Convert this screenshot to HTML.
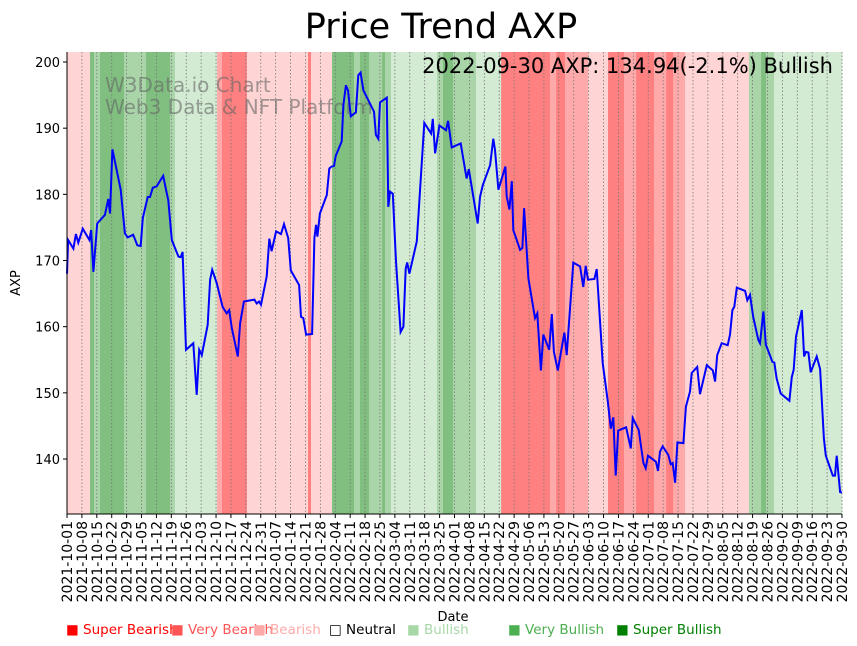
<!DOCTYPE html>
<html><head><meta charset="utf-8"><style>
html,body{margin:0;padding:0;background:#fff;}
svg{display:block;font-family:"DejaVu Sans","Liberation Sans",sans-serif;}
</style></head><body>
<svg id="chart" width="857" height="646" viewBox="0 0 857 646" xmlns="http://www.w3.org/2000/svg">
<text x="441" y="38" font-size="35" text-anchor="middle">Price Trend AXP</text>
<g id="bands"></g>
<g id="grid"></g>
<g fill="#666" fill-opacity="0.6" font-size="20">
<text x="105" y="92">W3Data.io Chart</text>
<text x="105" y="114">Web3 Data &amp; NFT Platform</text>
</g>
<path id="line" fill="none" stroke="#0000ff" stroke-width="2"/>
<text x="833" y="73" font-size="21" text-anchor="end">2022-09-30 AXP: 134.94(-2.1%) Bullish</text>
<g id="axes"></g>
<text x="453" y="621" font-size="13" text-anchor="middle">Date</text>
<text transform="translate(20,283) rotate(-90)" font-size="13" text-anchor="middle">AXP</text>
<g id="legend" font-size="13.5"></g>
</svg>
<script>
const bandStarts=[0,10.8,12.7,15.5,26.8,37.1,48.4,50.7,70.5,72.8,84.5,113.2,114.6,124.5,134.8,137.6,141.9,148,149.4,152.2,173.8,176.6,181.3,192.1,203.9,226.9,229.7,233.9,244.7,254.1,261.6,267.3,275.7,281.4,284.7,290.3,320.3,326,328.3,332.1];
const bandEnds=[10.8,12.7,15.5,26.8,37.1,48.4,50.7,70.5,72.8,84.5,113.2,114.6,124.5,134.8,137.6,141.9,148,149.4,152.2,173.8,176.6,181.3,192.1,203.9,226.9,229.7,233.9,244.7,254.1,261.6,267.3,275.7,281.4,284.7,290.3,320.3,326,328.3,332.1,364];
const bandLevels=[2,6,5,6,5,6,5,4,1,0,2,0,2,6,5,6,5,6,5,4,5,6,5,4,0,1,0,1,2,0,1,0,1,0,1,2,5,6,5,4];
const days=[0,0.5,3,4.2,5.3,7.4,10.5,11.3,12.4,14.2,17.8,19.4,20.2,21.3,25.2,27.2,28.5,31.1,33,34.6,35.6,37.9,39,40.3,42.1,45.2,46.5,47.6,49.2,52.3,53.4,54.3,55.9,59.3,60.9,62.1,63.3,66.1,67.2,68.2,70.3,73.1,75,76.2,77.4,80.2,81.3,83.1,88,89.1,90.2,91.1,93.8,95,96.1,98.2,100.5,101.9,103.9,105.1,109,109.9,111,112.3,115.1,116.2,117,117.6,118.8,122,123.2,124.3,125.4,126.2,129,129.8,131,132,133.3,135.7,136.8,137.9,139.2,144.2,145.1,146.2,147,150.2,150.9,151.7,153,154.5,156.7,158,159.1,159.8,160.8,164.3,167.8,171,171.8,172.9,174.9,178,179,180.7,184.9,187.7,188.7,192.9,194,195.3,198.7,200.2,201,202.6,205.9,206.5,207.8,208.9,209.6,212.8,213.9,214.7,216.7,219.8,220.9,222.6,223.7,226.5,227.7,228.7,230.5,233.6,234.7,237.8,241,242.5,243.6,244.7,247.7,248.8,251.6,254,255.4,256.6,257.7,258.9,262.6,264.8,265.7,268.5,270.7,271.8,272.9,276.6,277.6,278.5,279.8,282.4,283.6,284.5,285.6,286.7,289.5,290.7,292.6,293.4,296,297.3,298.9,300.5,303.3,304.4,305.4,307.5,310.3,311.4,312.5,313.4,314.6,318.5,319.5,320.8,322.3,324.7,325.5,327.1,328.2,331.3,332.2,333.3,335.2,339.3,340.4,341.3,342.4,345.1,346.2,347.1,348.2,349.3,352.1,353.7,355.5,356.4,359.7,360.7,361.5,363.1,364];
const prices=[168,173.1,171.8,174,172.7,174.8,173.1,174.6,168.3,175.6,176.9,179.3,177.1,186.8,180.7,174.1,173.5,173.9,172.3,172.2,176.4,179.6,179.6,181,181.2,182.8,180.7,179.1,173.1,170.6,170.5,171.3,156.5,157.5,149.7,156.5,155.7,160.3,167.1,168.6,166.6,163,162,162.5,159.8,155.5,160.5,163.8,164.1,163.5,163.8,163.3,167.6,173.3,171.4,174.4,174,175.5,173.4,168.5,166.3,161.5,161.3,158.8,158.9,173.4,175.4,173.6,177.1,179.9,183.9,184.2,184.3,185.8,188,193.5,196.5,195.7,191.8,192.4,198,198.4,195.7,192.5,189,188.4,193.9,194.6,178.1,180.4,180.1,170.1,159.2,160,168.8,169.7,168,172.9,190.8,189.2,191.4,186.2,190.4,189.7,191.1,187.1,187.7,182.4,183.8,175.6,179.6,181.4,184.4,188.4,186.7,180.7,184.2,179.7,177.7,182,174.6,171.6,171.9,177.9,167.3,161.3,162,153.4,158.8,156.5,161.9,156.2,153.4,159.1,155.7,169.7,169.1,166,169.2,167.1,167.2,168.7,154.5,148.7,144.6,146.3,137.5,144.3,144.8,141.6,146.2,144.4,139.4,138.6,140.5,139.6,138.2,141.1,141.9,140.6,139.2,139.4,136.4,142.5,142.4,147.9,150.2,153,153.9,149.8,152,154.2,153.4,151.7,155.7,157.5,157.2,158.8,162.5,163,165.9,165.4,164,164.8,161.5,158,157.5,162.3,157.3,154.7,154.6,152.2,149.9,148.8,152.4,153.5,158.5,162.5,155.5,156.2,156.1,153.1,155.5,153.6,143.1,140.5,137.5,137.5,140.5,135,134.94];
const yTicks=[140,150,160,170,180,190,200];
const levelColors=["#ff8080","#ffaaaa","#ffd4d4","#ffffff","#d3ebd3","#a9d5a9","#80bf80"];
const legendNames=["Super Bearish","Very Bearish","Bearish","Neutral","Bullish","Very Bullish","Super Bullish"];
const legendColors=["#ff0000","#ff5555","#ffaaaa","#000000","#a8d8a8","#4caf50","#008000"];
const legendX=[66,171,253,329,407,508,616];

const NS="http://www.w3.org/2000/svg";
const X0=67,X1=842,YT=52,YB=514;
function xs(d){return X0+d*(X1-X0)/364;}
function ys(v){return 62+(200-v)*6.617;}
function mk(tag,attrs,parent){const e=document.createElementNS(NS,tag);for(const k in attrs)e.setAttribute(k,attrs[k]);parent.appendChild(e);return e;}

const bands=document.getElementById('bands');
for(let i=0;i<bandStarts.length;i++){
  const r=mk('rect',{x:xs(bandStarts[i]),y:YT,width:xs(bandEnds[i])-xs(bandStarts[i])+0.3,height:YB-YT,fill:levelColors[bandLevels[i]]},bands);
  
  
}
const grid=document.getElementById('grid');
const axes=document.getElementById('axes');
const start=new Date(Date.UTC(2021,9,1));
for(let d=0;d<=364;d+=7){
  const x=xs(d);
  const g=mk('line',{x1:x,x2:x,y1:YT,y2:YB,stroke:'#777','stroke-width':0.8,'stroke-dasharray':'1.5,2'},grid);
  
  
  mk('line',{x1:x,x2:x,y1:YB,y2:YB+4,stroke:'#000','stroke-width':1},axes);
  const dt=new Date(start.getTime()+d*86400000);
  const lab=dt.toISOString().slice(0,10);
  const t=mk('text',{transform:`translate(${x+5},${YB+7}) rotate(-90)`,'font-size':14,'text-anchor':'end'},axes);
  t.textContent=lab;
  
  
}
yTicks.forEach(v=>{
  const y=ys(v);
  mk('line',{x1:X0-4,x2:X0,y1:y,y2:y,stroke:'#000','stroke-width':1},axes);
  const t=mk('text',{x:X0-7,y:y+5,'font-size':13,'text-anchor':'end'},axes);
  t.textContent=v;
  
  
});
mk('line',{x1:X0,x2:X0,y1:YT,y2:YB,stroke:'#000','stroke-width':1},axes);
mk('line',{x1:X0,x2:X1,y1:YB,y2:YB,stroke:'#000','stroke-width':1},axes);

let dstr='';
for(let i=0;i<days.length;i++){dstr+=(i?'L':'M')+xs(days[i]).toFixed(1)+','+ys(prices[i]).toFixed(1);}
document.getElementById('line').setAttribute('d',dstr);

const leg=document.getElementById('legend');
for(let i=0;i<legendNames.length;i++){
  const t=mk('text',{x:legendX[i],y:634,fill:legendColors[i]},leg);
  t.textContent=(i===3?'□ ':'■ ')+legendNames[i];
  
  
}
</script>
</body></html>
